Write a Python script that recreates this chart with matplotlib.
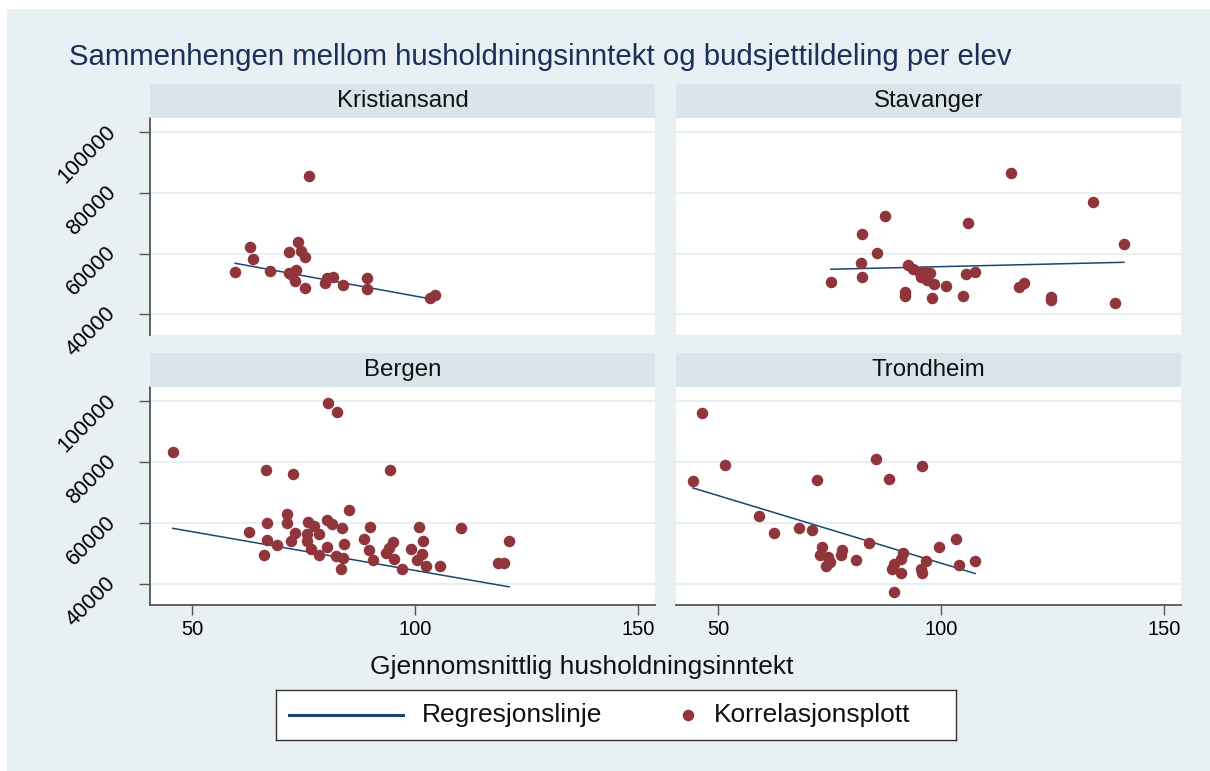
import matplotlib
matplotlib.use("Agg")
import matplotlib.pyplot as plt
from matplotlib.patches import Rectangle
from matplotlib.lines import Line2D
import numpy as np

plt.rcParams['font.family'] = ['Liberation Sans', 'DejaVu Sans']

# ---------------- data ----------------
title = "Sammenhengen mellom husholdningsinntekt og budsjettildeling per elev"
xlabel = "Gjennomsnittlig husholdningsinntekt"
legend_labels = ["Regresjonslinje", "Korrelasjonsplott"]
cities = ["Kristiansand", "Stavanger", "Bergen", "Trondheim"]

kri_x = [59.6, 63.0, 63.5, 67.5, 71.6, 73.6, 74.4, 75.2, 71.6, 73.3, 72.4, 73.1,
         75.2, 80.1, 81.6, 79.8, 83.7, 89.2, 89.2, 103.3, 104.4, 76.2]
kri_y = [53850, 62290, 58130, 54280, 60640, 63940, 60870, 58990, 53520, 54610, 52800, 50980,
         48570, 51870, 52400, 50220, 49660, 51870, 48340, 45270, 46360, 85600]

sta_x = [82.2, 85.7, 82.0, 82.2, 92.6, 93.7, 95.2, 96.3, 97.6, 95.5, 96.9, 98.3, 101.1,
         91.8, 91.8, 98.0, 104.9, 105.6, 107.5, 117.5, 118.6, 115.6, 134.0, 87.5, 105.9,
         140.9, 75.3, 124.5, 124.5, 139.0]
sta_y = [66480, 60310, 56810, 52400, 56250, 54840, 53720, 54050, 53720, 52400, 51310, 49990, 49330,
         47450, 46130, 45280, 46130, 53290, 53850, 48900, 50420, 86690, 77120, 72410, 70000,
         63180, 50650, 45800, 44700, 43820]

ber_x = [45.6, 80.5, 82.5, 66.4, 72.6, 94.4,
         62.8, 66.7, 66.7, 66.0, 69.0, 71.2, 71.2, 72.9, 72.2, 75.9, 77.2, 78.3, 75.6, 75.6,
         76.5, 78.3, 80.2, 80.1, 81.2, 83.6, 82.1, 83.8, 83.3, 83.9, 85.1, 89.9, 88.4, 89.7,
         90.5, 93.3, 94.1, 95.0, 95.2, 97.1, 99.1, 100.8, 101.8, 101.5, 100.4, 102.3, 105.5,
         110.2, 118.6, 119.9, 121.0]
ber_y = [83400, 99300, 96400, 77440, 76100, 77440,
         57280, 60020, 54630, 49580, 52880, 63130, 60020, 56720, 54300, 60350, 58930, 56520, 56520, 54300,
         51560, 49680, 52090, 60910, 59820, 58500, 49350, 48590, 44950, 53210, 64450, 58700, 54870, 51230,
         47930, 50110, 51890, 53970, 48260, 44950, 51560, 58700, 54070, 49910, 47930, 46050, 45810,
         58370, 47000, 47000, 54200]

tro_x = [46.4, 51.5, 44.4, 72.1, 85.5, 88.2, 95.6, 59.2, 62.6, 68.1, 71.1, 73.2, 72.9,
         74.6, 74.1, 75.2, 77.8, 77.5, 80.9, 83.8, 91.5, 91.0, 89.5, 88.9, 91.0, 89.5,
         96.5, 95.4, 95.8, 99.5, 103.3, 103.9, 107.6]
tro_y = [96160, 79180, 73900, 74130, 81160, 74460, 78850, 62330, 56950, 58500, 57940, 52320, 49680,
         48790, 46050, 47140, 51230, 49680, 48030, 53540, 50240, 48260, 46610, 44960, 43830, 37560,
         47470, 44960, 43830, 52090, 54870, 46380, 47470]

# regression lines: (intercept, slope)
fit_intercept = [72783, 52205, 69939, 91307]
fit_slope = [-268.0, 35.0, -254.6, -444.3]

xticks = [50, 100, 150]
yticks = [40000, 60000, 80000, 100000]

# ---------------- style ----------------
W, H = 1210, 771
BG = '#e8f0f3'
STRIP = '#d9e5ea'
GRID = '#e8f0f3'
RED = '#90353b'
NAVY = '#1a476f'
AXC = '#555555'
TITLEC = '#1c2f5b'

fig = plt.figure(figsize=(W / 100, H / 100), dpi=100)
fig.patch.set_facecolor('white')
fig.patches.append(Rectangle((7 / W, 0), 1 - 7 / W, 1 - 9 / H, transform=fig.transFigure,
                             facecolor=BG, edgecolor='none', zorder=-10))


def rect(x0, y0, x1, y1):
    return [x0 / W, 1 - y1 / H, (x1 - x0) / W, (y1 - y0) / H]


cols = [(150, 655), (675.5, 1181)]
rows = [(118, 335), (387, 605)]
strips = [(84, 118), (353, 387)]
data = [(kri_x, kri_y), (sta_x, sta_y), (ber_x, ber_y), (tro_x, tro_y)]

for i, city in enumerate(cities):
    r, c = divmod(i, 2)
    x0, x1 = cols[c]
    y0, y1 = rows[r]
    ax = fig.add_axes(rect(x0, y0, x1, y1))
    ax.set_facecolor('white')
    ax.set_xlim(40.5, 153.7)
    ax.set_ylim(33170, 104700)
    ax.set_yticks(yticks)
    ax.set_xticks(xticks)
    ax.yaxis.grid(True, color=GRID, lw=1.6)
    ax.set_axisbelow(True)
    for s in ['top', 'right', 'left', 'bottom']:
        ax.spines[s].set_visible(False)
    if c == 0:
        ax.spines['left'].set_visible(True)
        ax.spines['left'].set_color(AXC)
        ax.spines['left'].set_linewidth(1.3)
        ax.tick_params(axis='y', direction='out', length=8, width=1, color=AXC,
                       labelsize=15.5, pad=16)
        ax.set_yticklabels([str(v) for v in yticks])
        for lbl in ax.get_yticklabels():
            lbl.set_rotation(45)
            lbl.set_ha('right')
            lbl.set_va('baseline')
            lbl.set_rotation_mode('anchor')
    else:
        ax.tick_params(axis='y', left=False, labelleft=False)
    if r == 1:
        ax.spines['bottom'].set_visible(True)
        ax.spines['bottom'].set_color(AXC)
        ax.spines['bottom'].set_linewidth(1.3)
        ax.tick_params(axis='x', direction='out', length=7, width=1, color=AXC,
                       labelsize=14.5, pad=4)
    else:
        ax.tick_params(axis='x', bottom=False, labelbottom=False)

    xs, ys = data[i]
    lx = np.array([min(xs), max(xs)])
    ly = fit_intercept[i] + fit_slope[i] * lx
    ax.plot(lx, ly, color=NAVY, lw=1.1, zorder=2)
    ax.plot(xs, ys, 'o', ms=8.3, color=RED, mec='none', zorder=3)

    sy0, sy1 = strips[r]
    sax = fig.add_axes(rect(x0, sy0, x1, sy1))
    sax.set_facecolor(STRIP)
    sax.set_xticks([])
    sax.set_yticks([])
    for s in sax.spines.values():
        s.set_visible(False)
    sax.text(0.5, 0.5, city, ha='center', va='center', fontsize=17.3, color='#111111',
             transform=sax.transAxes)

fig.text(69 / W, 1 - 57 / H, title, ha='left', va='center', fontsize=21.2, color=TITLEC)
fig.text(582 / W, 1 - 667 / H, xlabel, ha='center', va='center', fontsize=19, color='#111111')

# legend box
lax = fig.add_axes(rect(276, 690, 956, 740))
lax.set_facecolor('white')
lax.set_xlim(0, 680)
lax.set_ylim(50, 0)
lax.set_xticks([])
lax.set_yticks([])
for s in lax.spines.values():
    s.set_color('#333333')
    s.set_linewidth(1.0)
lax.add_line(Line2D([13, 127], [25, 25], color=NAVY, lw=2.2))
lax.add_line(Line2D([412], [25], marker='o', ms=8.3, color=RED, mec='none', ls='none'))
lax.text(146, 25, legend_labels[0], ha='left', va='center', fontsize=19, color='#111111')
lax.text(438, 25, legend_labels[1], ha='left', va='center', fontsize=19, color='#111111')

fig.savefig('out.png', dpi=100, facecolor=fig.get_facecolor())
